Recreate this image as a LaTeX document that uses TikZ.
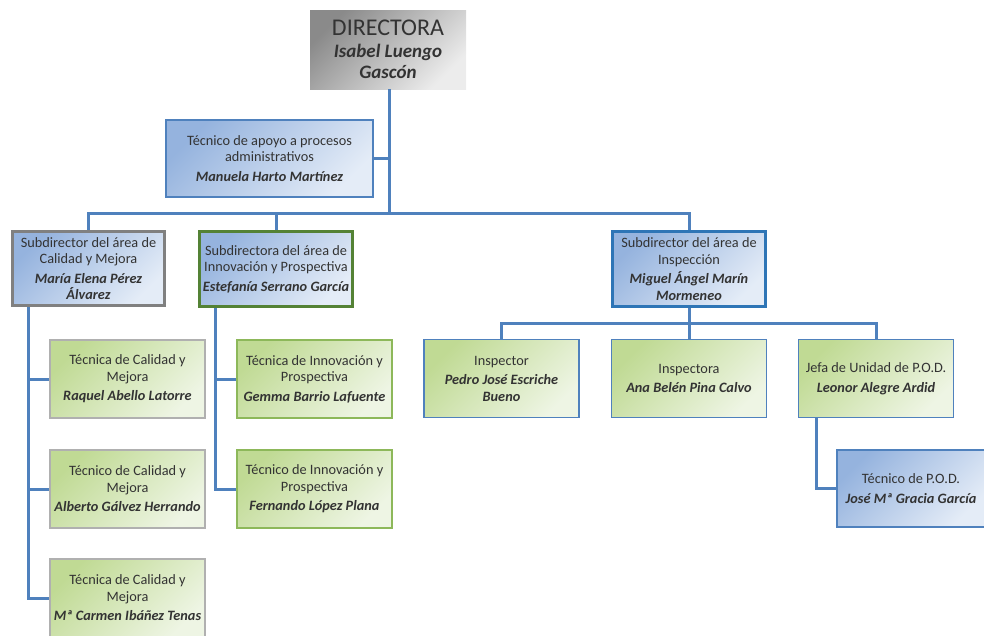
\documentclass[tikz,border=0pt]{standalone}
\usepackage{fontspec}
\setmainfont{Carlito}
\usetikzlibrary{positioning}

\definecolor{azulLinea}{HTML}{4F81BD}
\definecolor{azulOscuro}{HTML}{2E75B6}
\definecolor{azulIni}{HTML}{95B3DE}
\definecolor{azulFin}{HTML}{E4ECF7}
\definecolor{verdeIni}{HTML}{C0DA94}
\definecolor{verdeFin}{HTML}{EEF5E4}
\definecolor{verdeBorde}{HTML}{8DB85A}
\definecolor{verdeOscuro}{HTML}{548235}
\definecolor{grisBorde}{HTML}{808080}
\definecolor{grisClaro}{HTML}{B0B0B0}
\definecolor{grisIni}{HTML}{8A8A8A}
\definecolor{grisFin}{HTML}{ECECEC}

\newcommand{\nombre}[1]{{\bfseries\itshape #1}}

\tikzset{
  caja/.style={rectangle, minimum width=155, minimum height=78, inner sep=1pt,
    align=center, font=\fontsize{14.3}{16.5}\selectfont, text=black!80},
  azul/.style={caja, top color=azulIni, bottom color=azulFin, shading angle=45},
  verde/.style={caja, top color=verdeIni, bottom color=verdeFin, shading angle=45},
  linea/.style={draw=azulLinea, line width=3pt}
}

\begin{document}
\begin{tikzpicture}[x=1pt,y=-1pt]
        \useasboundingbox (0,0) rectangle (984,635);

        % Directora
        \node[caja, minimum width=156, minimum height=79, top color=grisIni, bottom color=grisFin,
              shading angle=45, font=\fontsize{19}{21}\selectfont] (dir) at (388,49.5)
              {\fontsize{24}{26}\selectfont DIRECTORA\\[1pt]
               \fontsize{19}{21}\selectfont\nombre{Isabel Luengo}\\\nombre{Gascón}};

        % Apoyo administrativo
        \node[azul, draw=azulLinea, line width=1.3pt, minimum width=207, minimum height=77] (apoyo)
              at (269.5,158.5)
              {Técnico de apoyo a procesos\\administrativos\\[3pt]\nombre{Manuela Harto Martínez}};

        % Subdirecciones
        \node[azul, draw=grisBorde, line width=3pt, minimum width=152, minimum height=74] (subcal)
              at (88.5,268.5)
              {Subdirector del área de\\Calidad y Mejora\\[3pt]\nombre{María Elena Pérez}\\\nombre{Álvarez}};
        \node[azul, draw=verdeOscuro, line width=3pt, minimum width=153, minimum height=75] (subinn)
              at (276,269)
              {Subdirectora del área de\\Innovación y Prospectiva\\[3pt]\nombre{Estefanía Serrano García}};
        \node[azul, draw=azulOscuro, line width=3pt, minimum width=153, minimum height=75] (subins)
              at (689,269)
              {Subdirector del área de\\Inspección\\[3pt]\nombre{Miguel Ángel Marín}\\\nombre{Mormeneo}};

        % Calidad y Mejora
        \node[verde, draw=grisClaro, line width=1.3pt] (cal1) at (127.5,379)
              {Técnica de Calidad y\\Mejora\\[3pt]\nombre{Raquel Abello Latorre}};
        \node[verde, draw=grisClaro, line width=1.3pt] (cal2) at (127.5,489)
              {Técnico de Calidad y\\Mejora\\[3pt]\nombre{Alberto Gálvez Herrando}};
        \node[verde, draw=grisClaro, line width=1.3pt] (cal3) at (127.5,598)
              {Técnica de Calidad y\\Mejora\\[3pt]\nombre{Mª Carmen Ibáñez Tenas}};

        % Innovacion y Prospectiva
        \node[verde, draw=verdeBorde, line width=1.3pt] (inn1) at (314.5,379)
              {Técnica de Innovación y\\Prospectiva\\[3pt]\nombre{Gemma Barrio Lafuente}};
        \node[verde, draw=verdeBorde, line width=1.3pt] (inn2) at (314.5,489)
              {Técnico de Innovación y\\Prospectiva\\[3pt]\nombre{Fernando López Plana}};

        % Inspeccion
        \node[verde, draw=azulLinea, line width=1.3pt] (ins1) at (501.5,378.5)
              {Inspector\\[3pt]\nombre{Pedro José Escriche}\\\nombre{Bueno}};
        \node[verde, draw=azulLinea, line width=1.3pt] (ins2) at (689,378.5)
              {Inspectora\\[3pt]\nombre{Ana Belén Pina Calvo}};
        \node[verde, draw=azulLinea, line width=1.3pt] (jefa) at (876,378.5)
              {Jefa de Unidad de P.O.D.\\[3pt]\nombre{Leonor Alegre Ardid}};
        \node[azul, draw=azulLinea, line width=1.3pt, minimum width=148, minimum height=77] (tpod)
              at (911,488.5)
              {Técnico de P.O.D.\\[3pt]\nombre{José Mª Gracia García}};

        % Conectores
        \coordinate (bus) at (389,213);
        \coordinate (calx) at (28,307);
        \coordinate (innx) at (215,308);
        \coordinate (insbus) at (689,323);
        \coordinate (podx) at (816,417);

        \draw[linea] (dir.south -| bus) -- (bus);
        \draw[linea] (apoyo.east) -- (apoyo.east -| bus);
        \draw[linea] (subcal.north) |- (bus) -| (subins.north);
        \draw[linea] (subinn.north) -- (subinn.north |- bus);

        \draw[linea] (calx) |- (cal3.west);
        \draw[linea] (calx |- cal1.west) -- (cal1.west);
        \draw[linea] (calx |- cal2.west) -- (cal2.west);

        \draw[linea] (innx) |- (inn2.west);
        \draw[linea] (innx |- inn1.west) -- (inn1.west);

        \draw[linea] (subins.south) -- (insbus);
        \draw[linea] (ins1.north) |- (insbus) -| (jefa.north);
        \draw[linea] (insbus) -- (ins2.north);

        \draw[linea] (podx) |- (tpod.west);
    \end{tikzpicture}
\end{document}
